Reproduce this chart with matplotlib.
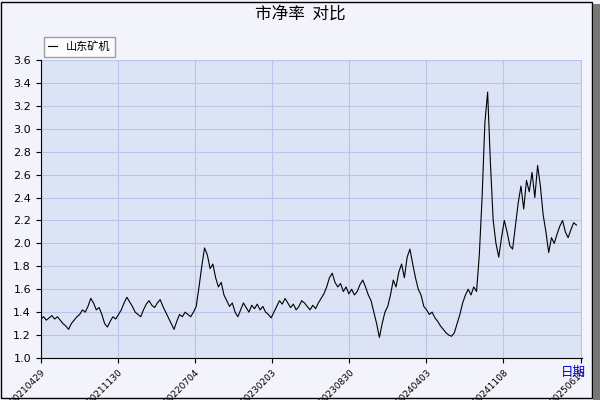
import matplotlib
matplotlib.use("Agg")
import matplotlib.pyplot as plt
from matplotlib.patches import Rectangle
import numpy as np

plt.rcParams["font.family"] = ["Noto Sans CJK SC", "DejaVu Sans"]

title = "市净率  对比"
series_name = "山东矿机"
tick_labels = ["20210429", "20211130", "20220704", "20230203", "20230830",
               "20240403", "20241108", "20250610"]
values = [
 1.34,1.36,1.33,1.35,1.37,1.34,1.36,1.33,1.30,1.28,1.25,1.30,1.33,1.36,1.38,1.42,1.40,1.45,1.52,1.48,
 1.42,1.44,1.38,1.30,1.27,1.32,1.36,1.34,1.38,1.42,1.48,1.53,1.49,1.45,1.40,1.38,1.36,1.42,1.47,1.50,
 1.46,1.44,1.48,1.51,1.45,1.40,1.35,1.30,1.25,1.32,1.38,1.36,1.40,1.38,1.36,1.40,1.45,1.62,1.80,1.96,
 1.90,1.78,1.82,1.70,1.62,1.66,1.55,1.50,1.45,1.48,1.40,1.36,1.42,1.48,1.44,1.40,1.46,1.43,1.47,1.42,
 1.45,1.40,1.38,1.35,1.40,1.45,1.50,1.47,1.52,1.48,1.44,1.47,1.42,1.45,1.50,1.48,1.45,1.42,1.46,1.43,
 1.48,1.52,1.56,1.62,1.70,1.74,1.66,1.62,1.65,1.58,1.62,1.56,1.60,1.55,1.58,1.64,1.68,1.62,1.55,1.50,
 1.40,1.30,1.18,1.30,1.40,1.45,1.55,1.68,1.62,1.75,1.82,1.70,1.88,1.95,1.82,1.70,1.60,1.55,1.45,1.42,
 1.38,1.40,1.35,1.32,1.28,1.25,1.22,1.20,1.19,1.22,1.30,1.38,1.48,1.55,1.60,1.55,1.62,1.58,1.90,2.40,
 3.05,3.32,2.70,2.20,2.00,1.88,2.05,2.20,2.10,1.98,1.95,2.15,2.35,2.50,2.30,2.55,2.45,2.62,2.40,2.68,
 2.50,2.25,2.10,1.92,2.05,2.00,2.08,2.15,2.20,2.10,2.05,2.12,2.18,2.16,
]

fig = plt.figure(figsize=(6, 4), dpi=100)
fig.patch.set_facecolor("#f3f3fb")
ax = fig.add_axes([0.068, 0.105, 0.902, 0.745])
ax.set_facecolor("#dce3f5")
x = np.arange(len(values))
ax.plot(x, values, color="black", lw=0.8, label=series_name)
n = len(values)
ticks = np.linspace(0, n - 1 + 1.5, len(tick_labels))
ax.set_xticks(ticks)
ax.set_xticklabels(tick_labels, rotation=45, ha="right", rotation_mode="anchor",
                   fontsize=6.5, family="DejaVu Sans")
ax.set_xlim(0, n - 1 + 2)
ax.set_ylim(1.0, 3.6)
ax.set_yticks(np.arange(1.0, 3.61, 0.2))
ax.set_yticklabels([f"{v:.1f}" for v in np.arange(1.0, 3.61, 0.2)], fontsize=8, family="DejaVu Sans")
ax.grid(True, color="#b8c4e8", lw=0.8)
for s in ["top", "right"]:
    ax.spines[s].set_visible(False)
fig.suptitle(title, y=0.985, fontsize=12)
leg = ax.legend(loc="upper left", bbox_to_anchor=(-0.005, 1.095), fontsize=8,
                frameon=True, fancybox=False, edgecolor="#888888", handlelength=0.8)
leg.get_frame().set_facecolor("white")
fig.text(0.955, 0.06, "日期", color="#0000cc", fontsize=9, ha="center")
fig.add_artist(Rectangle((0.002, 0.005), 0.985, 0.99, transform=fig.transFigure,
                         fill=False, edgecolor="black", lw=1))
fig.add_artist(Rectangle((0.988, 0.0), 0.012, 0.99, transform=fig.transFigure,
                         facecolor="#777777", edgecolor="none"))
fig.savefig("out.png", dpi=100, facecolor=fig.get_facecolor())
